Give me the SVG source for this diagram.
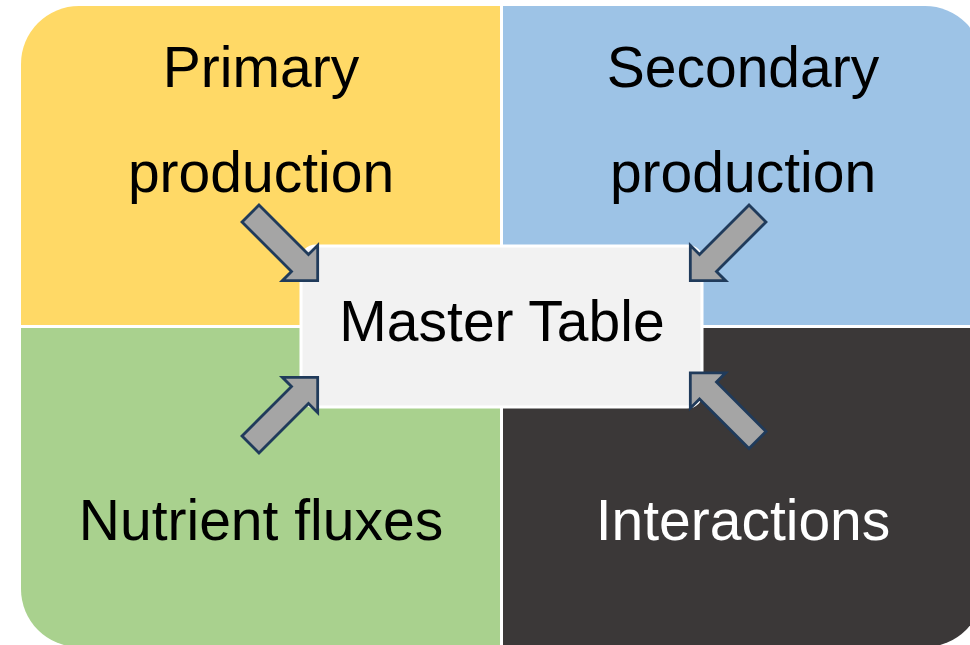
<svg xmlns="http://www.w3.org/2000/svg" width="970" height="645" viewBox="0 0 970 645">
<style>
.lbl{font-family:"Liberation Sans",Arial,sans-serif;font-size:57px;text-anchor:middle;fill:#000}
.arrow{fill:#A5A5A5;stroke:#203B5B;stroke-width:2.8;stroke-linejoin:miter}
</style>
<defs>
<path id="arr" d="M0,-12 L70,-12 L70,-25 L95,0 L70,25 L70,12 L0,12 Z"/>
</defs>
<rect width="970" height="645" fill="#FFFFFF"/>
<g id="primary">
<path d="M21,325 L21,64 A58,58 0 0 1 79,6 L500,6 L500,325 Z" fill="#FFD966"/>
<text class="lbl" x="261" y="87">Primary</text>
<text class="lbl" x="261" y="192">production</text>
</g>
<g id="secondary">
<path d="M503,6 L925,6 A58,58 0 0 1 983,64 L983,325 L503,325 Z" fill="#9DC3E6"/>
<text class="lbl" x="743" y="87">Secondary</text>
<text class="lbl" x="743" y="192">production</text>
</g>
<g id="nutrient">
<path d="M21,328 L500,328 L500,647 L79,647 A58,58 0 0 1 21,589 Z" fill="#A9D18E"/>
<text class="lbl" x="261" y="540">Nutrient fluxes</text>
</g>
<g id="interactions">
<path d="M503,328 L983,328 L983,589 A58,58 0 0 1 925,647 L503,647 Z" fill="#3B3838"/>
<text class="lbl" x="743" y="540" style="fill:#FFFFFF">Interactions</text>
</g>
<g id="master">
<rect x="301" y="246" width="401" height="161" rx="15" ry="15" fill="#F2F2F2" stroke="#FFFFFF" stroke-width="3"/>
<text class="lbl" x="502" y="341">Master Table</text>
</g>
<g id="connectors">
<use href="#arr" class="arrow" transform="translate(250.5,213.5) rotate(45)"/>
<use href="#arr" class="arrow" transform="translate(757.5,213.5) rotate(135)"/>
<use href="#arr" class="arrow" transform="translate(250.5,444.5) rotate(-45)"/>
<use href="#arr" class="arrow" transform="translate(757.5,440) rotate(-135)"/>
</g>
</svg>
